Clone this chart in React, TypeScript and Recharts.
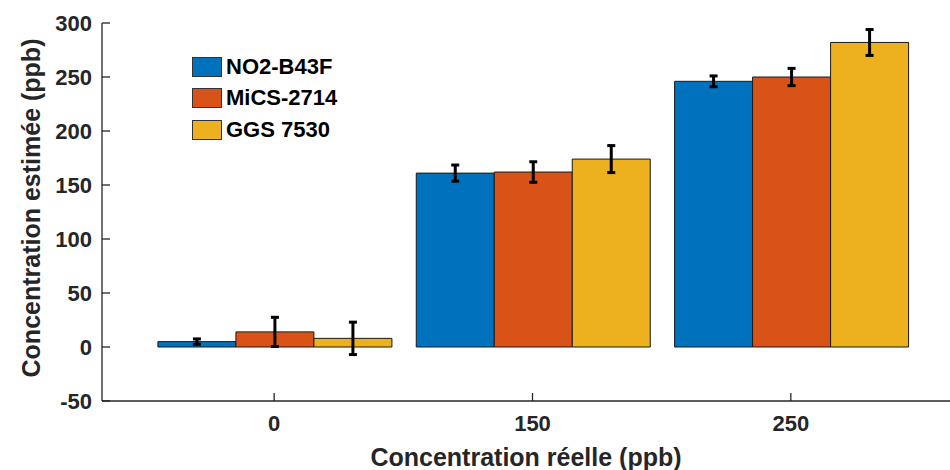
import React from 'react';
import { BarChart, Bar, XAxis, YAxis, ErrorBar, Label } from 'recharts';

const categories = ['0', '150', '250'];
const seriesNames = ['NO2-B43F', 'MiCS-2714', 'GGS 7530'];
const no2Values = [5, 161, 246];
const no2Errors = [2.5, 7.5, 5];
const micsValues = [14, 162, 250];
const micsErrors = [13.5, 9.5, 8];
const ggsValues = [8, 174, 282];
const ggsErrors = [15, 12.5, 12];
const yTicks = [-50, 0, 50, 100, 150, 200, 250, 300];
const colors = ['#0072BD', '#D95319', '#EDB120'];

const data = categories.map((c, i) => ({
  cat: c,
  s0: no2Values[i],
  e0: no2Errors[i],
  s1: micsValues[i],
  e1: micsErrors[i],
  s2: ggsValues[i],
  e2: ggsErrors[i],
}));

const FONT = '"Liberation Sans", Arial, sans-serif';
const TXT = '#262626';

const YTick = (props: any) => {
  const { x, y, payload } = props;
  const axisX = x + 10;
  return (
    <g>
      <line x1={axisX} x2={axisX + 8} y1={y} y2={y} stroke={TXT} strokeWidth={1.3} />
      <text x={x} y={y} dy="0.355em" textAnchor="end" fontFamily={FONT} fontWeight="bold" fontSize={22} fill={TXT}>
        {payload.value}
      </text>
    </g>
  );
};

const XTick = (props: any) => {
  const { x, y, payload } = props;
  return (
    <g>
      <line x1={x} x2={x} y1={y} y2={y - 8} stroke={TXT} strokeWidth={1.3} />
      <text x={x} y={y + 30} textAnchor="middle" fontFamily={FONT} fontWeight="bold" fontSize={22} fill={TXT}>
        {payload.value}
      </text>
    </g>
  );
};

const LegendBox = () => (
  <div style={{ position: 'absolute', left: 192, top: 51, display: 'flex', flexDirection: 'column' }}>
    {seriesNames.map((name, i) => (
      <div key={name} style={{ display: 'flex', alignItems: 'center', height: 31.5 }}>
        <div style={{ width: 28, height: 18, background: colors[i], border: '1px solid #333' }} />
        <span
          style={{
            marginLeft: 4,
            fontFamily: FONT,
            fontWeight: 'bold',
            fontSize: 22,
            color: '#000',
            whiteSpace: 'nowrap',
            lineHeight: '22px',
          }}
        >
          {name}
        </span>
      </div>
    ))}
  </div>
);

export default function App() {
  return (
    <div style={{ position: 'absolute', left: 0, top: 0, width: 950, height: 470, background: '#fff' }}>
      <BarChart
        width={950}
        height={470}
        data={data}
        margin={{ top: 23, right: 0, bottom: 0, left: 0 }}
        barCategoryGap="5%"
        barGap={0}
      >
        <XAxis
          dataKey="cat"
          type="category"
          padding={{ left: 43, right: 30 }}
          axisLine={{ stroke: TXT, strokeWidth: 1.3 }}
          tickLine={false}
          tickSize={0}
          tickMargin={0}
          interval={0}
          tick={<XTick />}
          height={69}
        >
          <Label
            content={(p: any) => {
              const vb = p.viewBox || {};
              return (
                <text
                  x={vb.x + vb.width / 2}
                  y={466}
                  textAnchor="middle"
                  fontFamily={FONT}
                  fontWeight="bold"
                  fontSize={25}
                  fill={TXT}
                >
                  Concentration réelle (ppb)
                </text>
              );
            }}
          />
        </XAxis>
        <YAxis
          type="number"
          domain={[-50, 300]}
          ticks={yTicks}
          interval={0}
          width={102}
          axisLine={{ stroke: TXT, strokeWidth: 1.3 }}
          tickLine={false}
          tickSize={0}
          tickMargin={10}
          tick={<YTick />}
        >
          <Label
            content={(p: any) => {
              const vb = p.viewBox || {};
              const cy = vb.y + vb.height / 2 - 4;
              return (
                <text
                  transform={`rotate(-90)`}
                  x={-cy}
                  y={40}
                  textAnchor="middle"
                  fontFamily={FONT}
                  fontWeight="bold"
                  fontSize={25}
                  fill={TXT}
                >
                  Concentration estimée (ppb)
                </text>
              );
            }}
          />
        </YAxis>
        <Bar dataKey="s0" name={seriesNames[0]} fill={colors[0]} stroke="#1a1a1a" strokeWidth={1} isAnimationActive={false}>
          <ErrorBar dataKey="e0" width={4} strokeWidth={3} stroke="#000" isAnimationActive={false} />
        </Bar>
        <Bar dataKey="s1" name={seriesNames[1]} fill={colors[1]} stroke="#1a1a1a" strokeWidth={1} isAnimationActive={false}>
          <ErrorBar dataKey="e1" width={4} strokeWidth={3} stroke="#000" isAnimationActive={false} />
        </Bar>
        <Bar dataKey="s2" name={seriesNames[2]} fill={colors[2]} stroke="#1a1a1a" strokeWidth={1} isAnimationActive={false}>
          <ErrorBar dataKey="e2" width={4} strokeWidth={3} stroke="#000" isAnimationActive={false} />
        </Bar>
      </BarChart>
      <LegendBox />
    </div>
  );
}
